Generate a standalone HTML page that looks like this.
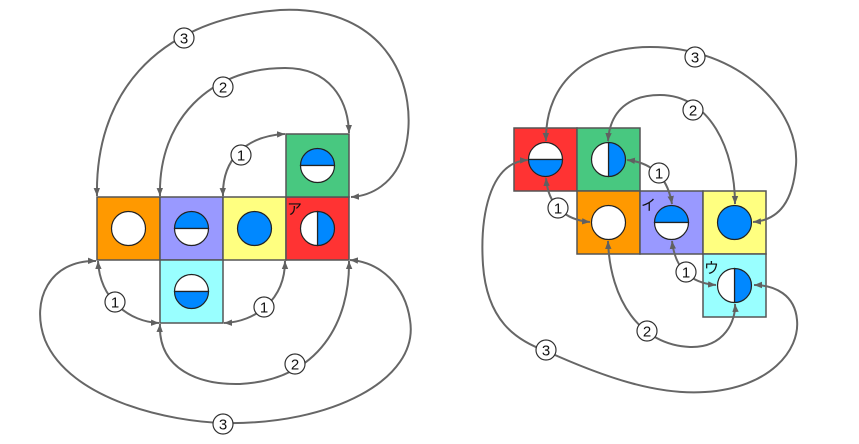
<!DOCTYPE html>
<html><head><meta charset="utf-8"><style>
html,body{margin:0;padding:0;background:#fff;}
svg{display:block;}
text{font-family:"Liberation Sans","Noto Sans CJK JP",sans-serif;}
</style></head><body>
<svg width="859" height="444" viewBox="0 0 859 444" xmlns="http://www.w3.org/2000/svg">
<defs>
<marker id="a" viewBox="0 0 10 10" refX="10" refY="5" markerWidth="8" markerHeight="8" markerUnits="userSpaceOnUse" orient="auto-start-reverse">
<path d="M0,1 L10,5 L0,9 z" fill="#606060"/></marker>
<g id="lab"><circle r="10" fill="#fff" stroke="#333" stroke-width="1.2"/></g>
</defs>

<!-- LEFT NET -->
<g stroke="#555" stroke-width="1.5">
<rect x="97" y="197" width="63" height="63" fill="#ff9900"/>
<rect x="160" y="197" width="63" height="63" fill="#9999ff"/>
<rect x="223" y="197" width="63" height="63" fill="#ffff80"/>
<rect x="286" y="197" width="63" height="63" fill="#ff3333"/>
<rect x="286" y="134" width="63" height="63" fill="#48c880"/>
<rect x="160" y="260" width="63" height="63" fill="#99ffff"/>
</g>
<g stroke="#222" stroke-width="1.2">
<circle cx="128.5" cy="228.5" r="17" fill="#fff"/>
<path d="M174.5,228.5 A17,17 0 0 1 208.5,228.5 Z" fill="#0088ff"/>
<path d="M174.5,228.5 A17,17 0 0 0 208.5,228.5 Z" fill="#fff"/>
<circle cx="254.5" cy="228.5" r="17" fill="#0088ff"/>
<path d="M317.5,211.5 A17,17 0 0 1 317.5,245.5 Z" fill="#0088ff"/>
<path d="M317.5,211.5 A17,17 0 0 0 317.5,245.5 Z" fill="#fff"/>
<path d="M300.5,165.5 A17,17 0 0 1 334.5,165.5 Z" fill="#0088ff"/>
<path d="M300.5,165.5 A17,17 0 0 0 334.5,165.5 Z" fill="#fff"/>
<path d="M174.5,291.5 A17,17 0 0 1 208.5,291.5 Z" fill="#fff"/>
<path d="M174.5,291.5 A17,17 0 0 0 208.5,291.5 Z" fill="#0088ff"/>
</g>
<text x="287" y="214" font-size="15" fill="#111">ア</text>

<g fill="none" stroke="#666" stroke-width="2">
<path d="M97,196 C95,100 150,20 280,10 C390,5 420,90 405,150 C395,185 370,196 351,197" marker-start="url(#a)" marker-end="url(#a)"/>
<path d="M160,196 C158,120 210,68 285,68 C330,68 348,100 349,133" marker-start="url(#a)" marker-end="url(#a)"/>
<path d="M223,196 C222,160 245,136 285,134" marker-start="url(#a)" marker-end="url(#a)"/>
<path d="M98,261 C100,300 130,322 159,323" marker-start="url(#a)" marker-end="url(#a)"/>
<path d="M285,261 C285,300 255,322 224,323" marker-start="url(#a)" marker-end="url(#a)"/>
<path d="M160,324 C158,370 200,385 240,384 C320,380 350,320 349,261" marker-start="url(#a)" marker-end="url(#a)"/>
<path d="M96,261 C50,260 30,300 45,340 C70,400 170,422 225,423 C330,425 420,380 410,320 C405,285 380,262 350,260" marker-start="url(#a)" marker-end="url(#a)"/>
</g>

<!-- RIGHT NET -->
<g stroke="#555" stroke-width="1.5">
<rect x="514" y="128" width="63" height="63" fill="#ff3333"/>
<rect x="577" y="128" width="63" height="63" fill="#48c880"/>
<rect x="577" y="191" width="63" height="63" fill="#ff9900"/>
<rect x="640" y="191" width="63" height="63" fill="#9999ff"/>
<rect x="703" y="191" width="63" height="63" fill="#ffff80"/>
<rect x="703" y="254" width="63" height="63" fill="#99ffff"/>
</g>
<g stroke="#222" stroke-width="1.2">
<path d="M528.5,159.5 A17,17 0 0 1 562.5,159.5 Z" fill="#fff"/>
<path d="M528.5,159.5 A17,17 0 0 0 562.5,159.5 Z" fill="#0088ff"/>
<path d="M608.5,142.5 A17,17 0 0 1 608.5,176.5 Z" fill="#0088ff"/>
<path d="M608.5,142.5 A17,17 0 0 0 608.5,176.5 Z" fill="#fff"/>
<circle cx="608.5" cy="222.5" r="17" fill="#fff"/>
<path d="M654.5,222.5 A17,17 0 0 1 688.5,222.5 Z" fill="#0088ff"/>
<path d="M654.5,222.5 A17,17 0 0 0 688.5,222.5 Z" fill="#fff"/>
<circle cx="734.5" cy="222.5" r="17" fill="#0088ff"/>
<path d="M734.5,268.5 A17,17 0 0 1 734.5,302.5 Z" fill="#0088ff"/>
<path d="M734.5,268.5 A17,17 0 0 0 734.5,302.5 Z" fill="#fff"/>
</g>
<text x="641" y="210" font-size="15" fill="#111">イ</text>
<text x="704" y="273" font-size="15" fill="#111">ウ</text>

<g fill="none" stroke="#666" stroke-width="2">
<path d="M546,141 C545,80 590,47 650,47 C740,47 800,110 796,165 C793,200 780,220 753,222" marker-start="url(#a)" marker-end="url(#a)"/>
<path d="M608,141 C610,110 630,95 660,95 C710,95 735,150 735,204" marker-start="url(#a)" marker-end="url(#a)"/>
<path d="M627,160 C655,163 668,180 672,204" marker-start="url(#a)" marker-end="url(#a)"/>
<path d="M546,178 C548,205 565,220 590,222" marker-start="url(#a)" marker-end="url(#a)"/>
<path d="M672,241 C675,268 690,283 716,285" marker-start="url(#a)" marker-end="url(#a)"/>
<path d="M608,241 C610,300 640,345 690,347 C725,348 736,320 735,304" marker-start="url(#a)" marker-end="url(#a)"/>
<path d="M528,160 C488,162 480,220 483,265 C487,320 515,340 546,351 C610,380 660,395 705,392 C770,388 800,350 797,320 C795,295 775,285 754,285" marker-start="url(#a)" marker-end="url(#a)"/>
</g>

<!-- labels -->
<g font-size="15" text-anchor="middle" fill="#111">
<use href="#lab" x="184" y="38"/><text x="184" y="43.5">3</text>
<use href="#lab" x="223" y="87"/><text x="223" y="92.5">2</text>
<use href="#lab" x="241" y="155"/><text x="241" y="160.5">1</text>
<use href="#lab" x="115" y="302"/><text x="115" y="307.5">1</text>
<use href="#lab" x="264" y="307"/><text x="264" y="312.5">1</text>
<use href="#lab" x="295" y="364"/><text x="295" y="369.5">2</text>
<use href="#lab" x="223" y="424"/><text x="223" y="429.5">3</text>
<use href="#lab" x="695" y="57"/><text x="695" y="62.5">3</text>
<use href="#lab" x="693" y="110"/><text x="693" y="115.5">2</text>
<use href="#lab" x="659" y="173"/><text x="659" y="178.5">1</text>
<use href="#lab" x="558" y="208"/><text x="558" y="213.5">1</text>
<use href="#lab" x="686" y="272"/><text x="686" y="277.5">1</text>
<use href="#lab" x="647" y="331"/><text x="647" y="336.5">2</text>
<use href="#lab" x="546" y="350"/><text x="546" y="355.5">3</text>
</g>
</svg>
</body></html>
